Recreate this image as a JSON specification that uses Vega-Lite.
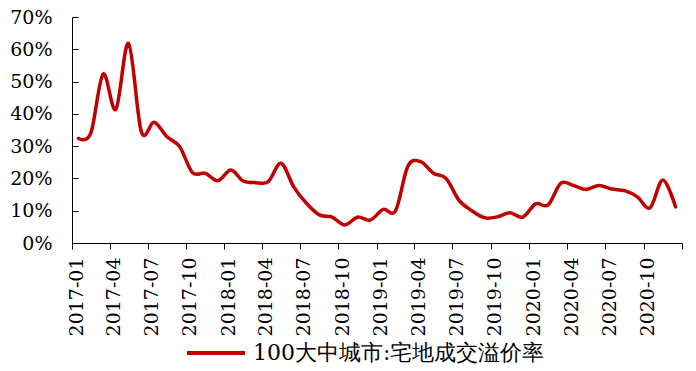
{
  "$schema": "https://vega.github.io/schema/vega-lite/v6.json",
  "autosize": "none",
  "width": 610,
  "height": 226,
  "padding": {"left": 72, "top": 17, "right": 14, "bottom": 128},
  "background": "white",
  "config": {
    "view": {"stroke": null},
    "font": "DejaVu Serif",
    "axis": {"grid": false, "domainColor": "black", "tickColor": "black", "labelColor": "black", "domainWidth": 1, "tickWidth": 1, "labelFont": "DejaVu Serif"},
    "legend": {"labelFont": "DejaVu Serif"}
  },
  "data": {
    "values": [
      {"month": "2017-01-01", "rate": 0.324, "series": "100大中城市:宅地成交溢价率"},
      {"month": "2017-02-01", "rate": 0.340, "series": "100大中城市:宅地成交溢价率"},
      {"month": "2017-03-01", "rate": 0.523, "series": "100大中城市:宅地成交溢价率"},
      {"month": "2017-04-01", "rate": 0.414, "series": "100大中城市:宅地成交溢价率"},
      {"month": "2017-05-01", "rate": 0.618, "series": "100大中城市:宅地成交溢价率"},
      {"month": "2017-06-01", "rate": 0.345, "series": "100大中城市:宅地成交溢价率"},
      {"month": "2017-07-01", "rate": 0.374, "series": "100大中城市:宅地成交溢价率"},
      {"month": "2017-08-01", "rate": 0.329, "series": "100大中城市:宅地成交溢价率"},
      {"month": "2017-09-01", "rate": 0.298, "series": "100大中城市:宅地成交溢价率"},
      {"month": "2017-10-01", "rate": 0.218, "series": "100大中城市:宅地成交溢价率"},
      {"month": "2017-11-01", "rate": 0.216, "series": "100大中城市:宅地成交溢价率"},
      {"month": "2017-12-01", "rate": 0.193, "series": "100大中城市:宅地成交溢价率"},
      {"month": "2018-01-01", "rate": 0.226, "series": "100大中城市:宅地成交溢价率"},
      {"month": "2018-02-01", "rate": 0.192, "series": "100大中城市:宅地成交溢价率"},
      {"month": "2018-03-01", "rate": 0.187, "series": "100大中城市:宅地成交溢价率"},
      {"month": "2018-04-01", "rate": 0.190, "series": "100大中城市:宅地成交溢价率"},
      {"month": "2018-05-01", "rate": 0.247, "series": "100大中城市:宅地成交溢价率"},
      {"month": "2018-06-01", "rate": 0.174, "series": "100大中城市:宅地成交溢价率"},
      {"month": "2018-07-01", "rate": 0.123, "series": "100大中城市:宅地成交溢价率"},
      {"month": "2018-08-01", "rate": 0.087, "series": "100大中城市:宅地成交溢价率"},
      {"month": "2018-09-01", "rate": 0.080, "series": "100大中城市:宅地成交溢价率"},
      {"month": "2018-10-01", "rate": 0.056, "series": "100大中城市:宅地成交溢价率"},
      {"month": "2018-11-01", "rate": 0.080, "series": "100大中城市:宅地成交溢价率"},
      {"month": "2018-12-01", "rate": 0.071, "series": "100大中城市:宅地成交溢价率"},
      {"month": "2019-01-01", "rate": 0.104, "series": "100大中城市:宅地成交溢价率"},
      {"month": "2019-02-01", "rate": 0.100, "series": "100大中城市:宅地成交溢价率"},
      {"month": "2019-03-01", "rate": 0.238, "series": "100大中城市:宅地成交溢价率"},
      {"month": "2019-04-01", "rate": 0.252, "series": "100大中城市:宅地成交溢价率"},
      {"month": "2019-05-01", "rate": 0.216, "series": "100大中城市:宅地成交溢价率"},
      {"month": "2019-06-01", "rate": 0.200, "series": "100大中城市:宅地成交溢价率"},
      {"month": "2019-07-01", "rate": 0.133, "series": "100大中城市:宅地成交溢价率"},
      {"month": "2019-08-01", "rate": 0.100, "series": "100大中城市:宅地成交溢价率"},
      {"month": "2019-09-01", "rate": 0.078, "series": "100大中城市:宅地成交溢价率"},
      {"month": "2019-10-01", "rate": 0.081, "series": "100大中城市:宅地成交溢价率"},
      {"month": "2019-11-01", "rate": 0.094, "series": "100大中城市:宅地成交溢价率"},
      {"month": "2019-12-01", "rate": 0.080, "series": "100大中城市:宅地成交溢价率"},
      {"month": "2020-01-01", "rate": 0.121, "series": "100大中城市:宅地成交溢价率"},
      {"month": "2020-02-01", "rate": 0.118, "series": "100大中城市:宅地成交溢价率"},
      {"month": "2020-03-01", "rate": 0.185, "series": "100大中城市:宅地成交溢价率"},
      {"month": "2020-04-01", "rate": 0.178, "series": "100大中城市:宅地成交溢价率"},
      {"month": "2020-05-01", "rate": 0.166, "series": "100大中城市:宅地成交溢价率"},
      {"month": "2020-06-01", "rate": 0.178, "series": "100大中城市:宅地成交溢价率"},
      {"month": "2020-07-01", "rate": 0.167, "series": "100大中城市:宅地成交溢价率"},
      {"month": "2020-08-01", "rate": 0.162, "series": "100大中城市:宅地成交溢价率"},
      {"month": "2020-09-01", "rate": 0.143, "series": "100大中城市:宅地成交溢价率"},
      {"month": "2020-10-01", "rate": 0.109, "series": "100大中城市:宅地成交溢价率"},
      {"month": "2020-11-01", "rate": 0.195, "series": "100大中城市:宅地成交溢价率"},
      {"month": "2020-12-01", "rate": 0.112, "series": "100大中城市:宅地成交溢价率"}
    ]
  },
  "mark": {"type": "line", "interpolate": "cardinal", "tension": 0, "strokeWidth": 3.5, "strokeJoin": "round", "strokeCap": "round"},
  "encoding": {
    "x": {
      "field": "month",
      "type": "temporal",
      "timeUnit": "utcyearmonth",
      "bandPosition": 0.5,
      "scale": {"nice": false, "domain": [{"year": 2017, "month": 1, "date": 1, "utc": true}, {"year": 2021, "month": 1, "date": 1, "utc": true}]},
      "axis": {
        "title": null,
        "values": [
          {"year": 2017, "month": 1, "date": 1, "utc": true},
          {"year": 2017, "month": 4, "date": 1, "utc": true},
          {"year": 2017, "month": 7, "date": 1, "utc": true},
          {"year": 2017, "month": 10, "date": 1, "utc": true},
          {"year": 2018, "month": 1, "date": 1, "utc": true},
          {"year": 2018, "month": 4, "date": 1, "utc": true},
          {"year": 2018, "month": 7, "date": 1, "utc": true},
          {"year": 2018, "month": 10, "date": 1, "utc": true},
          {"year": 2019, "month": 1, "date": 1, "utc": true},
          {"year": 2019, "month": 4, "date": 1, "utc": true},
          {"year": 2019, "month": 7, "date": 1, "utc": true},
          {"year": 2019, "month": 10, "date": 1, "utc": true},
          {"year": 2020, "month": 1, "date": 1, "utc": true},
          {"year": 2020, "month": 4, "date": 1, "utc": true},
          {"year": 2020, "month": 7, "date": 1, "utc": true},
          {"year": 2020, "month": 10, "date": 1, "utc": true},
          {"year": 2021, "month": 1, "date": 1, "utc": true}
        ],
        "labelExpr": "datum.value >= 1609459200000 ? '' : utcFormat(datum.value, '%Y-%m')",
        "labelAngle": 270,
        "labelFontSize": 19,
        "labelPadding": 8,
        "labelOffset": 4,
        "tickSize": 6,
        "labelOverlap": false,
        "labelBound": false,
        "labelFlush": false
      }
    },
    "y": {
      "field": "rate",
      "type": "quantitative",
      "scale": {"domain": [0, 0.7], "nice": false, "zero": true},
      "axis": {
        "title": null,
        "values": [0, 0.1, 0.2, 0.3, 0.4, 0.5, 0.6, 0.7],
        "format": ".0%",
        "labelFontSize": 19,
        "tickSize": -6,
        "labelPadding": 26
      }
    },
    "color": {
      "field": "series",
      "type": "nominal",
      "scale": {"range": ["#C00000"]},
      "legend": {
        "title": null,
        "orient": "none",
        "legendX": 113,
        "legendY": 305,
        "symbolType": "stroke",
        "symbolSize": 3364,
        "symbolStrokeWidth": 4,
        "labelFontSize": 22,
        "labelColor": "black",
        "labelOffset": 6,
        "labelLimit": 400,
        "padding": 0
      }
    }
  }
}
